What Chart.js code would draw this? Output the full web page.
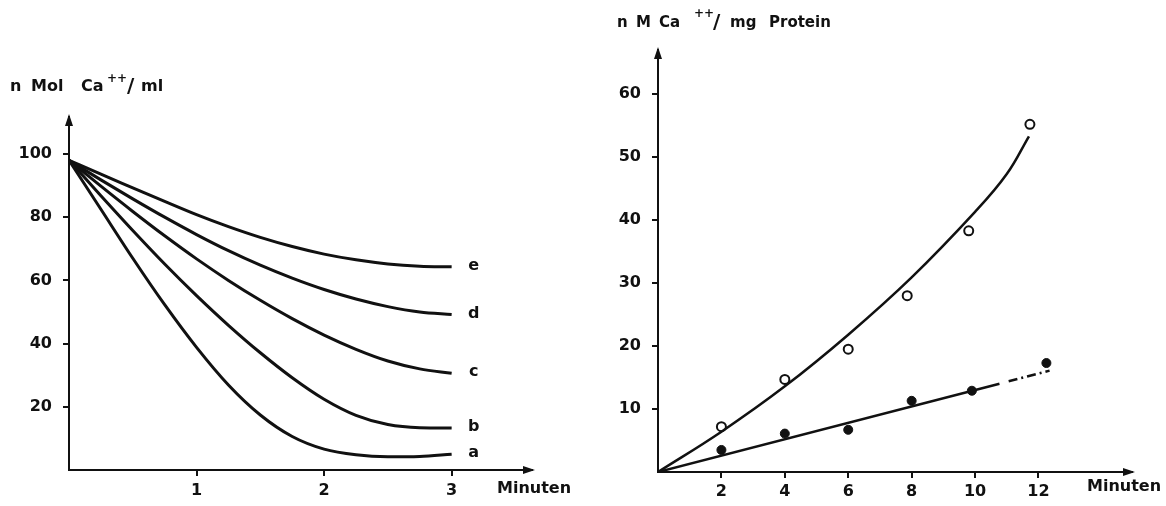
<!DOCTYPE html>
<html>
<head>
<meta charset="utf-8">
<script src="https://cdn.jsdelivr.net/npm/chart.js@4.4.0/dist/chart.umd.min.js"></script>
<style>
  html, body { margin: 0; padding: 0; background: #fff; }
  body { width: 1166px; height: 506px; position: relative; overflow: hidden; font-family: "DejaVu Sans", sans-serif; }
  .box { position: absolute; top: 0; height: 506px; }
  .t { position: absolute; font-weight: bold; color: #111; white-space: nowrap; }
  .l16 { font-size: 16px; line-height: 16px; }
  .l15 { font-size: 15px; line-height: 15px; }
  .sup { font-size: 12px; line-height: 12px; }
  .sl { font-size: 20px; line-height: 20px; }
</style>
</head>
<body>
<div class="box" style="left:0;width:580px"><canvas id="leftChart"></canvas></div>
<div class="box" style="left:580px;width:586px"><canvas id="rightChart"></canvas></div>

<span class="t l16" style="left:10px;top:78px">n</span>
<span class="t l16" style="left:31px;top:78px">Mol</span>
<span class="t l16" style="left:81px;top:78px">Ca</span>
<span class="t sup" style="left:107px;top:72px">++</span>
<span class="t sl" style="left:127px;top:75px">/</span>
<span class="t l16" style="left:141px;top:78px">ml</span>

<span class="t l15" style="left:617px;top:15px">n</span>
<span class="t l15" style="left:636px;top:15px">M</span>
<span class="t l15" style="left:659px;top:15px">Ca</span>
<span class="t sup" style="left:694px;top:7px">++</span>
<span class="t sl" style="left:713px;top:11px">/</span>
<span class="t l15" style="left:730px;top:15px">mg</span>
<span class="t l15" style="left:769px;top:15px">Protein</span>

<script>
// linkes Diagramm: Abnahme Ca++ im Medium
const minutenLinks = [0, 0.25, 0.5, 0.75, 1, 1.25, 1.5, 1.75, 2, 2.25, 2.5, 2.75, 3];
const kurveA = [98, 82.5, 67, 52.3, 38.8, 26.9, 17.4, 10.6, 6.6, 4.8, 4.2, 4.3, 5];
const kurveB = [98, 86.8, 75.8, 65.2, 55.2, 45.8, 37.1, 29.2, 22.4, 17.3, 14.4, 13.4, 13.3];
const kurveC = [98, 89.8, 81.8, 74.1, 66.8, 60, 53.7, 47.9, 42.7, 38.2, 34.5, 32, 30.6];
const kurveD = [98, 91.8, 85.8, 80, 74.5, 69.4, 64.8, 60.7, 57.1, 54.1, 51.7, 50, 49.2];
const kurveE = [98, 93.6, 89.3, 85, 80.8, 77, 73.6, 70.7, 68.3, 66.5, 65.2, 64.5, 64.3];
const kurvenNamen = ['a', 'b', 'c', 'd', 'e'];
const ticksLinksX = [1, 2, 3];
const ticksLinksY = [20, 40, 60, 80, 100];

// rechtes Diagramm: Aufnahme Ca++ pro mg Protein
const offenX = [2, 4, 6, 7.86, 9.8, 11.73];
const offenY = [7.2, 14.7, 19.5, 28, 38.3, 55.2];
const vollX = [2, 4, 6, 8, 9.9, 12.25];
const vollY = [3.5, 6.1, 6.7, 11.3, 12.9, 17.3];
const kurveObenX = [0, 2, 4, 6, 8, 10, 11, 11.7];
const kurveObenY = [0, 6.4, 13.6, 21.8, 30.9, 41.3, 47.3, 53.3];
const geradeX = [0, 10.77];
const geradeY = [0, 14.0];
const verlaengerungX = [11.06, 12.35];
const verlaengerungY = [14.4, 16.1];
const ticksRechtsX = [2, 4, 6, 8, 10, 12];
const ticksRechtsY = [10, 20, 30, 40, 50, 60];

const ink = '#111';
const font = { family: 'DejaVu Sans', weight: 'bold', size: 16 };

const toPoints = (xs, ys) => xs.map((x, i) => ({ x, y: ys[i] }));

const decor = {
    id: 'decor',
    afterDraw(chart, args, opts) {
        const { ctx, chartArea: a } = chart;
        ctx.save();
        ctx.fillStyle = ink;
        // pfeil y
        ctx.beginPath();
        ctx.moveTo(a.left, a.top - 3);
        ctx.lineTo(a.left - 4, a.top + 9);
        ctx.lineTo(a.left + 4, a.top + 9);
        ctx.closePath();
        ctx.fill();
        // pfeil x
        ctx.beginPath();
        ctx.moveTo(a.right + 3, a.bottom);
        ctx.lineTo(a.right - 9, a.bottom - 4);
        ctx.lineTo(a.right - 9, a.bottom + 4);
        ctx.closePath();
        ctx.fill();

        ctx.font = 'bold 16px "DejaVu Sans"';
        ctx.textBaseline = 'middle';
        ctx.textAlign = 'left';
        ctx.fillText('Minuten', opts.minutenX, opts.minutenY);

        if (opts.namen) {
            ctx.textAlign = 'center';
            chart.data.datasets.forEach((ds, i) => {
                const meta = chart.getDatasetMeta(i);
                const last = meta.data[meta.data.length - 1];
                ctx.fillText(opts.namen[i], last.x + 22, last.y - 1);
            });
        }
        ctx.restore();
    }
};

const axisBase = (tickVals, fitKey, fitVal, pad) => ({
    type: 'linear',
    min: 0,
    afterBuildTicks: scale => { scale.ticks = tickVals.map(v => ({ value: v })); },
    afterFit: scale => { scale[fitKey] = fitVal; },
    grid: { drawOnChartArea: false, drawTicks: true, tickLength: 6, color: ink, lineWidth: 2 },
    border: { display: true, color: ink, width: 2 },
    ticks: { color: ink, font, padding: pad, autoSkip: false, maxRotation: 0 }
});

const lineStyle = {
    showLine: true,
    borderColor: ink,
    borderWidth: 3,
    pointRadius: 0,
    cubicInterpolationMode: 'monotone',
    fill: false
};

const leftX = axisBase(ticksLinksX, 'height', 36, 5);
leftX.max = 3.63;
const leftY = axisBase(ticksLinksY, 'width', 69, 11);
leftY.max = 111.7;

new Chart(document.getElementById('leftChart'), {
    type: 'scatter',
    data: {
        datasets: [kurveA, kurveB, kurveC, kurveD, kurveE].map((ys, i) => ({
            label: kurvenNamen[i],
            data: toPoints(minutenLinks, ys),
            ...lineStyle
        }))
    },
    options: {
        responsive: true,
        maintainAspectRatio: false,
        animation: false,
        layout: { padding: { top: 117, right: 48, left: 0, bottom: 0 } },
        plugins: {
            legend: { display: false },
            tooltip: { enabled: false },
            decor: { minutenX: 497, minutenY: 489, namen: kurvenNamen }
        },
        scales: { x: leftX, y: leftY }
    },
    plugins: [decor]
});

const rightX = axisBase(ticksRechtsX, 'height', 34, 4);
rightX.max = 14.95;
const rightY = axisBase(ticksRechtsY, 'width', 78, 11);
rightY.max = 67;

new Chart(document.getElementById('rightChart'), {
    type: 'scatter',
    data: {
        datasets: [
            { label: 'Kurve', data: toPoints(kurveObenX, kurveObenY), ...lineStyle, borderWidth: 2.5, cubicInterpolationMode: 'default', tension: 0.4 },
            { label: 'Gerade', data: toPoints(geradeX, geradeY), ...lineStyle, borderWidth: 2.5 },
            { label: 'Verlängerung', data: toPoints(verlaengerungX, verlaengerungY), ...lineStyle, borderWidth: 2.5, borderDash: [9, 4, 2, 4] },
            { label: 'offen', data: toPoints(offenX, offenY), pointRadius: 4.5, pointBorderWidth: 2, pointBorderColor: ink, pointBackgroundColor: '#fff' },
            { label: 'voll', data: toPoints(vollX, vollY), pointRadius: 4.5, pointBorderWidth: 1, pointBorderColor: ink, pointBackgroundColor: ink }
        ]
    },
    options: {
        responsive: true,
        maintainAspectRatio: false,
        animation: false,
        layout: { padding: { top: 50, right: 34, left: 0, bottom: 0 } },
        plugins: {
            legend: { display: false },
            tooltip: { enabled: false },
            decor: { minutenX: 1087 - 580, minutenY: 487 }
        },
        scales: { x: rightX, y: rightY }
    },
    plugins: [decor]
});
</script>
</body>
</html>
